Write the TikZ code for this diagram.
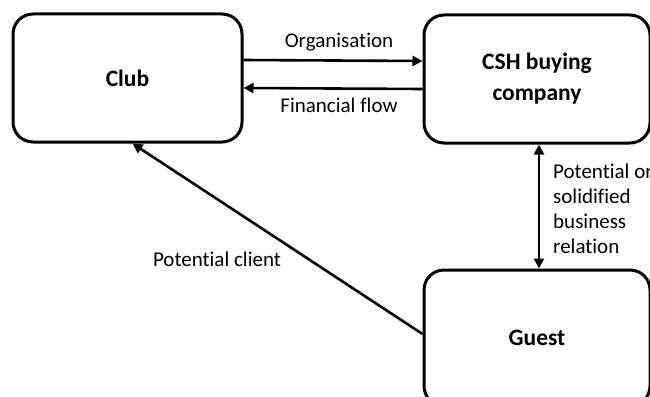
\documentclass[tikz,border=0pt]{standalone}
\usepackage{fontspec}
\setmainfont{Carlito}[Ligatures=NoCommon]
\usepackage{tikz}
\usetikzlibrary{arrows.meta, positioning}

\begin{document}
\begin{tikzpicture}[x=1pt, y=-1pt,
    box/.style={rectangle, rounded corners=20pt, draw, line width=3pt, minimum width=226pt, minimum height=128pt, align=center, font=\fontsize{23.5}{31}\selectfont\bfseries},
    arrow/.style={-{Triangle[length=10pt, width=10pt]}, line width=2.6pt},
    both/.style={{Triangle[length=10pt, width=10pt]}-{Triangle[length=10pt, width=10pt]}, line width=2.6pt},
    lbl/.style={font=\fontsize{21}{25}\selectfont, inner sep=0pt}
]
\useasboundingbox (0,0) rectangle (650,396);

\node[box, minimum width=229pt] (club) at (127.5,78) {Club};
\node[box] (csh) at (537,79) {CSH buying\\company};
\node[box, minimum height=136pt] (guest) at (537,338) {Guest};

\draw[arrow] ([yshift=18pt]club.east) -- ([yshift=18pt]csh.west);
\draw[arrow] ([yshift=-10pt]csh.west) -- ([yshift=-10pt]club.east);
\draw[both] ([xshift=2pt]csh.south) -- ([xshift=2pt]guest.north);
\draw[arrow] ([yshift=4pt]guest.west) -- ([xshift=5pt]club.south);

\node[lbl] (orga) at (339,42) {Organisation};
\node[lbl] (flow) at (339,105) {Financial flow};
\node[lbl, anchor=west, align=left] (relation) at (553,209) {Potential or\\solidified\\business\\relation};
\node[lbl] (client) at (217,259) {Potential client};

\end{tikzpicture}
\end{document}
